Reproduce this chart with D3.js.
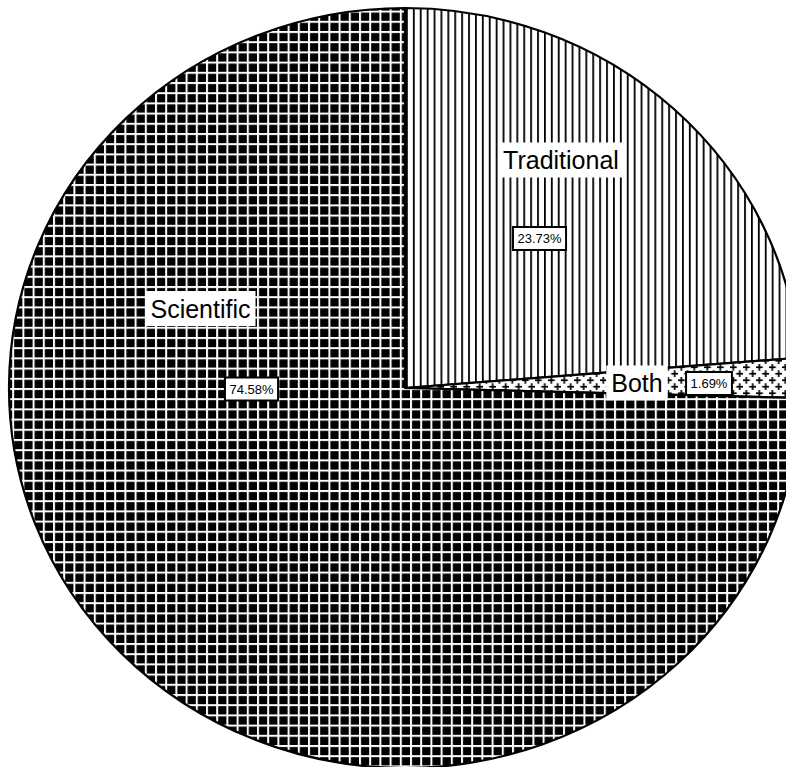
<!DOCTYPE html>
<html>
<head>
<meta charset="utf-8">
<script src="https://cdn.jsdelivr.net/npm/d3@7"></script>
<style>
  html, body { margin: 0; padding: 0; background: #fff; }
  svg { display: block; }
  text { font-family: "Liberation Sans", Arial, sans-serif; }
</style>
</head>
<body>
<svg id="chart" width="786" height="767"></svg>
<script>
// ---- data ----
const categories = ["Traditional", "Both", "Scientific"];
const values = [23.73, 1.69, 74.58];
const percentLabels = ["23.73%", "1.69%", "74.58%"];

// ---- layout (not data) ----
const W = 786, H = 767;
const cx = 405, cy = 388;
const rx = 396, ry = 380;
// label centres, as offsets from the pie centre (page px)
const nameSpots = [[156, -228], [232, -5], [-204.5, -79.5]];
const pctSpots = [[134.5, -149.5], [304, -4.5], [-153.5, 1]];
const patternIds = ["pTrad", "pBoth", "pSci"];

const svg = d3.select("#chart");
const defs = svg.append("defs");
const k = rx / ry;

// Traditional: vertical lines
const pT = defs.append("pattern").attr("id", "pTrad")
  .attr("patternUnits", "userSpaceOnUse")
  .attr("width", 6.9).attr("height", 10)
  .attr("x", 1).attr("y", 0)
  .attr("patternTransform", `scale(${1 / k},1)`);
pT.append("rect").attr("width", 6.9).attr("height", 10).attr("fill", "#fff");
pT.append("rect").attr("x", 0).attr("y", 0).attr("width", 1.8).attr("height", 10).attr("fill", "#000");

// Both: plus signs, staggered
const pB = defs.append("pattern").attr("id", "pBoth")
  .attr("patternUnits", "userSpaceOnUse")
  .attr("width", 13).attr("height", 13)
  .attr("x", 0).attr("y", 2)
  .attr("patternTransform", `scale(${1 / k},1)`);
pB.append("rect").attr("width", 13).attr("height", 13).attr("fill", "#fff");
[[3.25, 3.25], [9.75, 9.75]].forEach(([px, py]) => {
  pB.append("rect").attr("x", px - 3.5).attr("y", py - 0.85).attr("width", 7).attr("height", 1.7).attr("fill", "#000");
  pB.append("rect").attr("x", px - 0.85).attr("y", py - 3.5).attr("width", 1.7).attr("height", 7).attr("fill", "#000");
});

// Scientific: black with white grid
const pS = defs.append("pattern").attr("id", "pSci")
  .attr("patternUnits", "userSpaceOnUse")
  .attr("width", 10.2).attr("height", 10.2)
  .attr("x", 5).attr("y", 0)
  .attr("patternTransform", `scale(${1 / k},1)`);
pS.append("rect").attr("width", 10.2).attr("height", 10.2).attr("fill", "#000");
pS.append("rect").attr("x", 0).attr("y", 0).attr("width", 2).attr("height", 10.2).attr("fill", "#fff");
pS.append("rect").attr("x", 0).attr("y", 0).attr("width", 10.2).attr("height", 2).attr("fill", "#fff");

const pie = d3.pie().sort(null).value(d => d.value);
const arcs = pie(categories.map((c, i) => ({ name: c, value: values[i], pct: percentLabels[i], i })));
const arc = d3.arc().innerRadius(0).outerRadius(ry);

const g = svg.append("g").attr("transform", `translate(${cx},${cy}) scale(${k},1)`);
g.selectAll("path.slice").data(arcs).enter().append("path")
  .attr("class", "slice")
  .attr("d", arc)
  .attr("fill", d => `url(#${patternIds[d.data.i]})`)
  .attr("stroke", "#000")
  .attr("stroke-width", 2.2)
  .attr("stroke-linejoin", "round")
  .attr("vector-effect", "non-scaling-stroke");

// labels
const lg = svg.append("g").attr("transform", `translate(${cx},${cy})`);

function addLabel(text, x, y, size, bordered, padX, boxH) {
  const grp = lg.append("g");
  const t = grp.append("text").attr("x", x).attr("y", y)
    .attr("text-anchor", "middle").attr("dominant-baseline", "central")
    .attr("font-size", size).attr("fill", "#000").text(text);
  const w = t.node().getComputedTextLength();
  grp.insert("rect", "text")
    .attr("x", x - w / 2 - padX).attr("y", y - boxH / 2)
    .attr("width", w + 2 * padX).attr("height", boxH)
    .attr("fill", "#fff")
    .attr("stroke", bordered ? "#000" : "none")
    .attr("stroke-width", bordered ? 2 : 0);
}

arcs.forEach(d => {
  const i = d.data.i;
  addLabel(d.data.name, nameSpots[i][0], nameSpots[i][1], 25, false, 5, 35);
  addLabel(d.data.pct, pctSpots[i][0], pctSpots[i][1], 13, true, 4.5, 23);
});
</script>
</body>
</html>
